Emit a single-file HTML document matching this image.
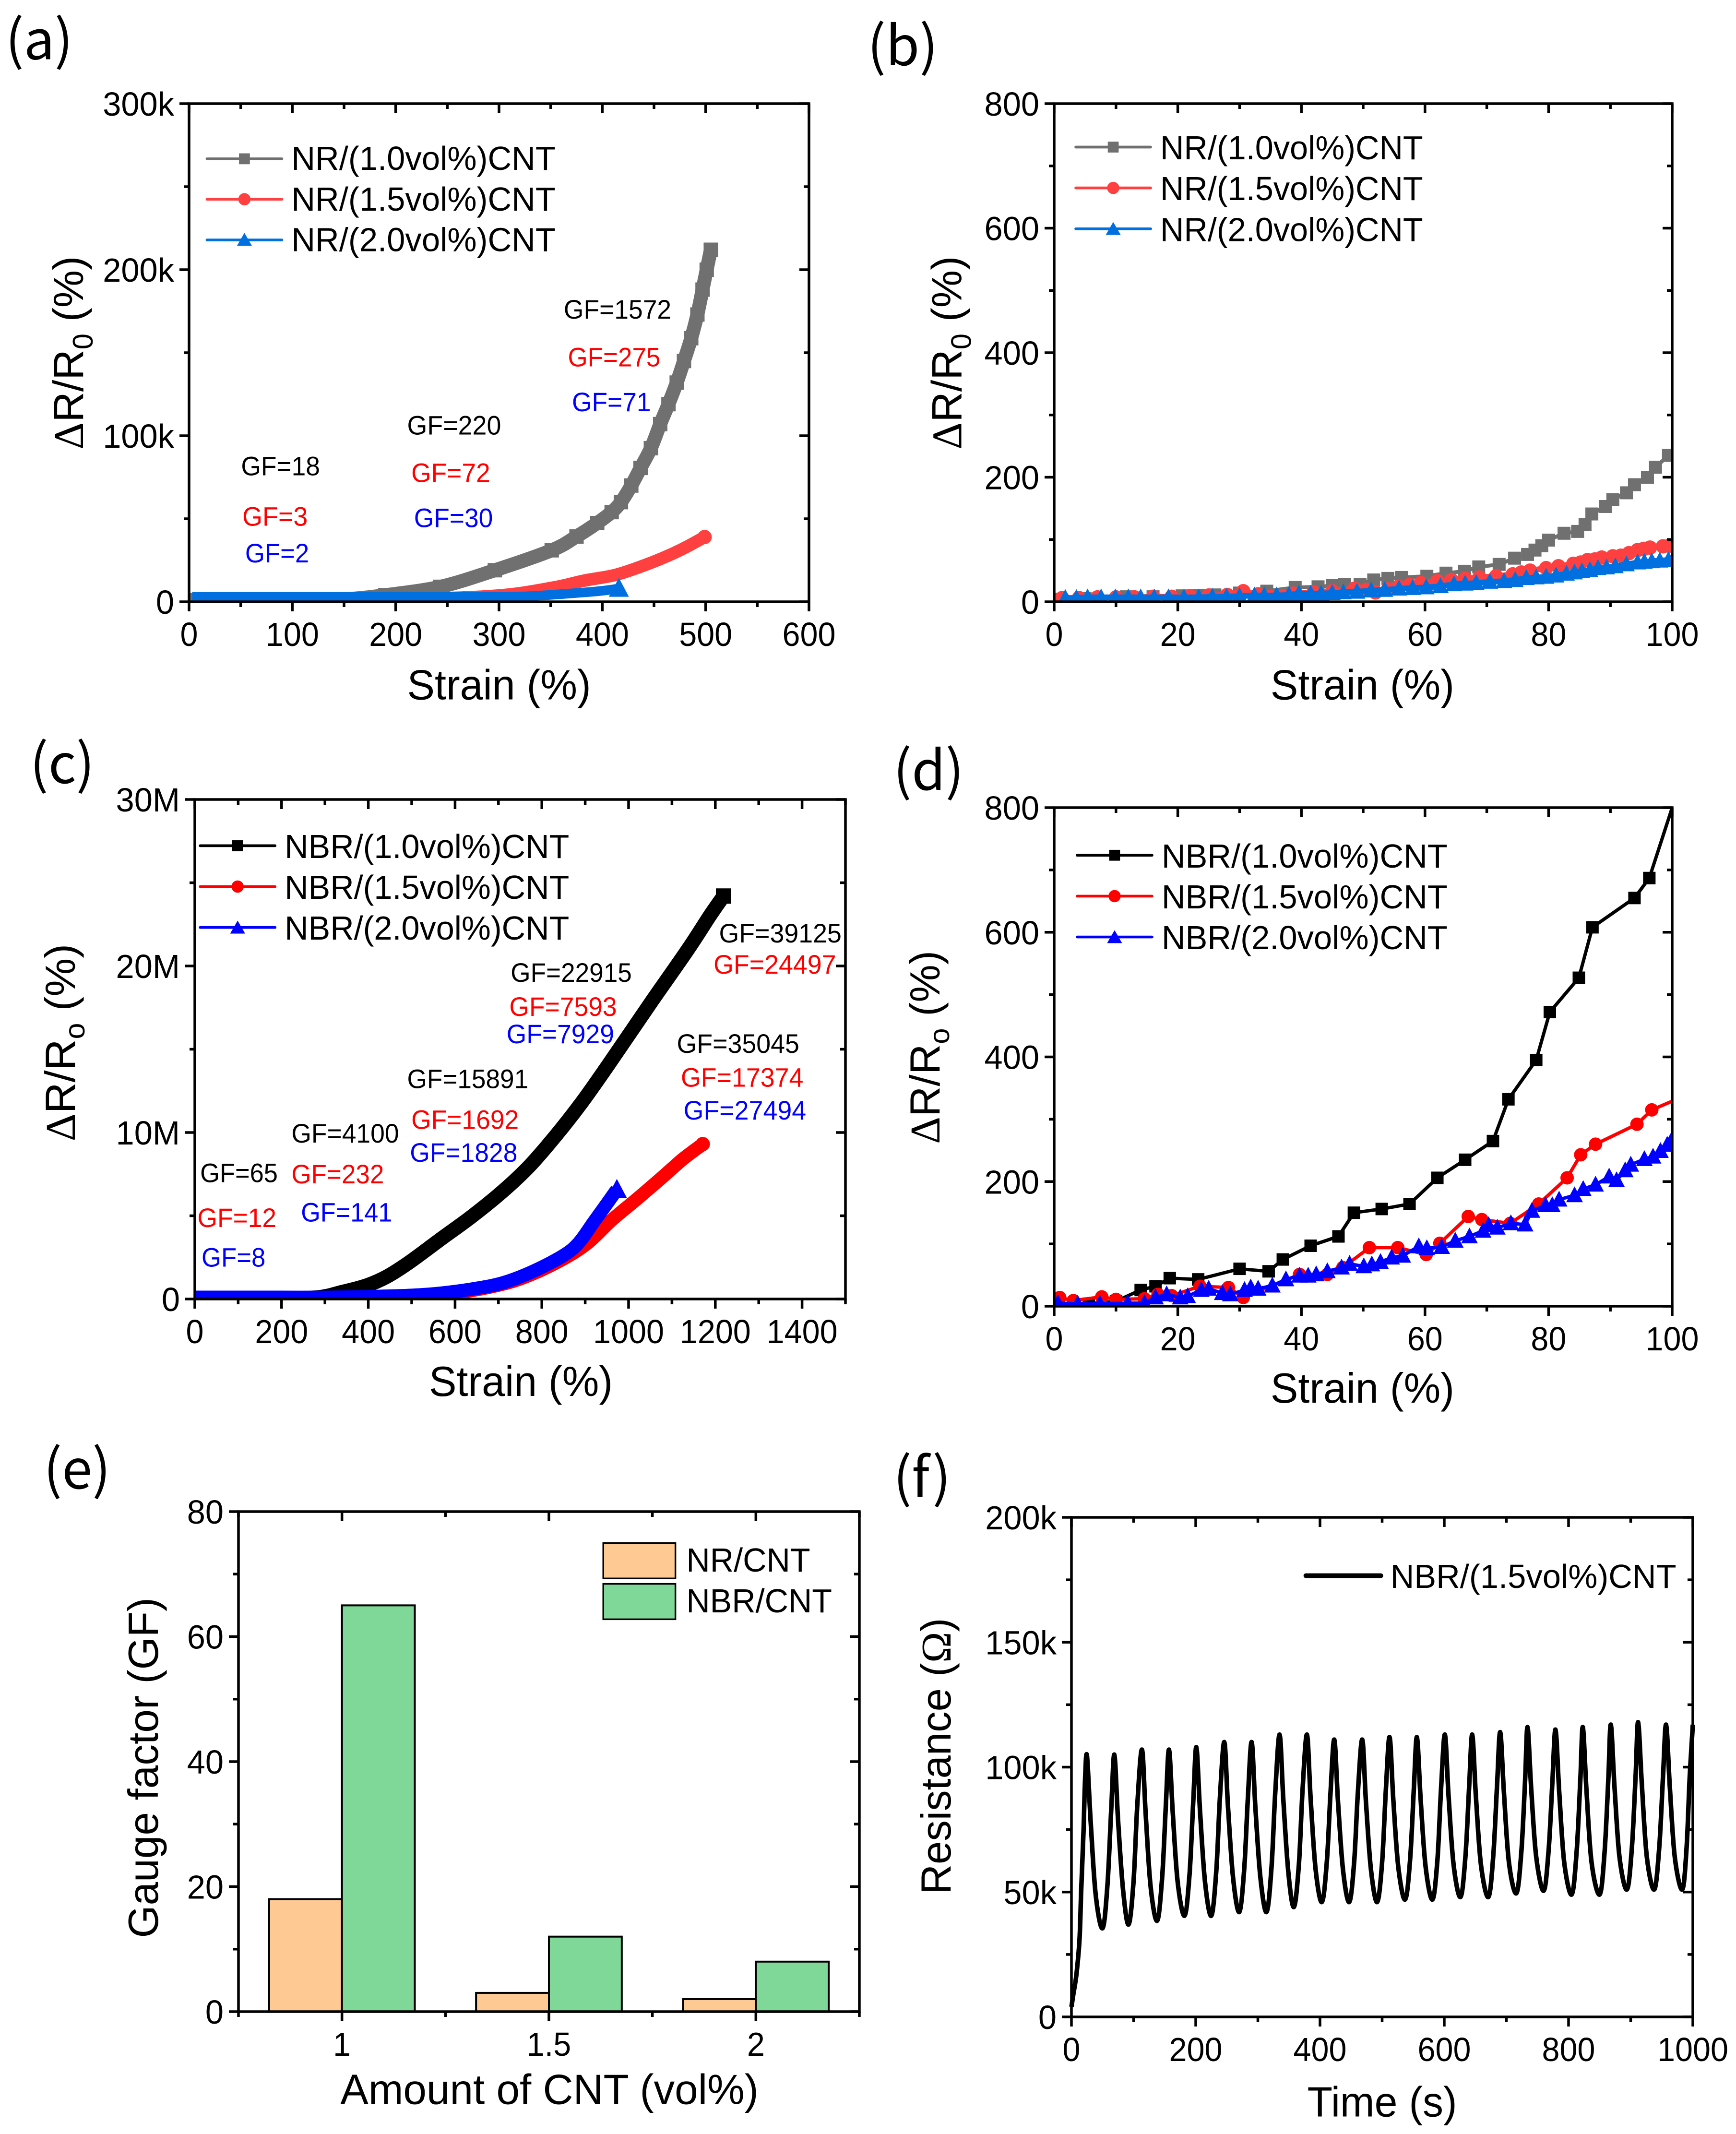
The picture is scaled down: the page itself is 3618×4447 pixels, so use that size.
<!DOCTYPE html>
<html lang="en">
<head>
<meta charset="utf-8">
<title>Strain sensing response of NR/CNT and NBR/CNT composites</title>
<style>
html,body{margin:0;padding:0;background:#fff;}
svg{display:block;}
text{font-family:"Liberation Sans",sans-serif;fill:#000;}
.gf{font-size:19.5px;}
.leg{font-size:24.6px;}
.ttl{font-size:31px;}
.let{font-size:40px;font-family:"Noto Sans CJK KR","Liberation Sans",sans-serif;}
.sub{font-size:21px;}
.r{fill:#f00;}
.b{fill:#00f;}
</style>
</head>
<body>
<svg id="fig" xmlns="http://www.w3.org/2000/svg" width="3618" height="4447" viewBox="0 0 3618 4447">
<rect x="0" y="0" width="3618" height="4447" fill="#fff"/>
<defs>
<clipPath id="clip-a"><rect x="394" y="216" width="1292" height="1038"/></clipPath>
<clipPath id="clip-b"><rect x="2197" y="216" width="1288" height="1038"/></clipPath>
<clipPath id="clip-c"><rect x="406" y="1666" width="1356" height="1041"/></clipPath>
<clipPath id="clip-d"><rect x="2197" y="1683" width="1288" height="1039"/></clipPath>
</defs>
<g id="panel-a"></g>
<g id="panel-b"></g>
<g id="panel-c"></g>
<g id="panel-d"></g>
<g id="panel-e"></g>
<g id="panel-f"></g>

<g transform="scale(2.838)">
  <text class="let" x="4" y="43.5">(a)</text>
  <text class="let" x="637" y="48">(b)</text>
  <text class="let" x="22" y="575">(c)</text>
  <text class="let" x="656" y="580">(d)</text>
  <text class="let" x="32" y="1093">(e)</text>
  <text class="let" x="656" y="1099">(f)</text>

  <text class="ttl" x="299" y="513.5" textLength="135" lengthAdjust="spacingAndGlyphs">Strain (%)</text>
  <text class="ttl" x="933" y="513.5" textLength="135" lengthAdjust="spacingAndGlyphs">Strain (%)</text>
  <text class="ttl" x="315" y="1025" textLength="135" lengthAdjust="spacingAndGlyphs">Strain (%)</text>
  <text class="ttl" x="933" y="1030" textLength="135" lengthAdjust="spacingAndGlyphs">Strain (%)</text>
  <text class="ttl" x="250" y="1545" textLength="307" lengthAdjust="spacingAndGlyphs">Amount of CNT (vol%)</text>
  <text class="ttl" x="960" y="1554" textLength="110" lengthAdjust="spacingAndGlyphs">Time (s)</text>

  <text class="ttl" transform="translate(61 330) rotate(-90)" textLength="142" lengthAdjust="spacingAndGlyphs"><tspan font-family="Liberation Serif">Δ</tspan>R/R<tspan class="sub" dy="7">0</tspan><tspan dy="-7"> (%)</tspan></text>
  <text class="ttl" transform="translate(706 330) rotate(-90)" textLength="142" lengthAdjust="spacingAndGlyphs"><tspan font-family="Liberation Serif">Δ</tspan>R/R<tspan class="sub" dy="7">0</tspan><tspan dy="-7"> (%)</tspan></text>
  <text class="ttl" transform="translate(55 838) rotate(-90)" textLength="145" lengthAdjust="spacingAndGlyphs"><tspan font-family="Liberation Serif">Δ</tspan>R/R<tspan class="sub" dy="7">o</tspan><tspan dy="-7"> (%)</tspan></text>
  <text class="ttl" transform="translate(690 840) rotate(-90)" textLength="142" lengthAdjust="spacingAndGlyphs"><tspan font-family="Liberation Serif">Δ</tspan>R/R<tspan class="sub" dy="7">o</tspan><tspan dy="-7"> (%)</tspan></text>
  <text class="ttl" transform="translate(116 1423) rotate(-90)" textLength="250" lengthAdjust="spacingAndGlyphs">Gauge factor (GF)</text>
  <text class="ttl" transform="translate(698 1391) rotate(-90)" textLength="203" lengthAdjust="spacingAndGlyphs">Resistance (<tspan font-family="Liberation Serif">Ω</tspan>)</text>

  <g stroke-linecap="round">
    <line x1="152" y1="116.6" x2="207" y2="116.6" stroke="#707070" stroke-width="2"/>
    <rect x="175.5" y="112.6" width="8" height="8" fill="#707070"/>
    <text class="leg" x="214" y="124.8" textLength="194" lengthAdjust="spacingAndGlyphs">NR/(1.0vol%)CNT</text>
    <line x1="152" y1="146.3" x2="207" y2="146.3" stroke="#ff4040" stroke-width="2"/>
    <circle cx="179.5" cy="146.3" r="4.5" fill="#ff4040"/>
    <text class="leg" x="214" y="154.7" textLength="194" lengthAdjust="spacingAndGlyphs">NR/(1.5vol%)CNT</text>
    <line x1="152" y1="176.2" x2="207" y2="176.2" stroke="#0070e0" stroke-width="2"/>
    <polygon points="179.5,171 185,180.5 174,180.5" fill="#0070e0"/>
    <text class="leg" x="214" y="184.5" textLength="194" lengthAdjust="spacingAndGlyphs">NR/(2.0vol%)CNT</text>
  </g>
  <g stroke-linecap="round">
    <line x1="790" y1="108" x2="845" y2="108" stroke="#707070" stroke-width="2"/>
    <rect x="813.5" y="104" width="8" height="8" fill="#707070"/>
    <text class="leg" x="852" y="117" textLength="193" lengthAdjust="spacingAndGlyphs">NR/(1.0vol%)CNT</text>
    <line x1="790" y1="138" x2="845" y2="138" stroke="#ff4040" stroke-width="2"/>
    <circle cx="817.5" cy="138" r="4.5" fill="#ff4040"/>
    <text class="leg" x="852" y="147" textLength="193" lengthAdjust="spacingAndGlyphs">NR/(1.5vol%)CNT</text>
    <line x1="790" y1="168" x2="845" y2="168" stroke="#0070e0" stroke-width="2"/>
    <polygon points="817.5,163 823,172.5 812,172.5" fill="#0070e0"/>
    <text class="leg" x="852" y="177" textLength="193" lengthAdjust="spacingAndGlyphs">NR/(2.0vol%)CNT</text>
  </g>
  <g stroke-linecap="round">
    <line x1="147" y1="621" x2="202" y2="621" stroke="#000" stroke-width="2"/>
    <rect x="170.5" y="617" width="8" height="8" fill="#000"/>
    <text class="leg" x="209" y="630" textLength="209" lengthAdjust="spacingAndGlyphs">NBR/(1.0vol%)CNT</text>
    <line x1="147" y1="651" x2="202" y2="651" stroke="#f00" stroke-width="2"/>
    <circle cx="174.5" cy="651" r="4.5" fill="#f00"/>
    <text class="leg" x="209" y="660" textLength="209" lengthAdjust="spacingAndGlyphs">NBR/(1.5vol%)CNT</text>
    <line x1="147" y1="681" x2="202" y2="681" stroke="#00f" stroke-width="2"/>
    <polygon points="174.5,676 180,685.5 169,685.5" fill="#00f"/>
    <text class="leg" x="209" y="690" textLength="209" lengthAdjust="spacingAndGlyphs">NBR/(2.0vol%)CNT</text>
  </g>
  <g stroke-linecap="round">
    <line x1="791" y1="628" x2="846" y2="628" stroke="#000" stroke-width="2"/>
    <rect x="814.5" y="624" width="8" height="8" fill="#000"/>
    <text class="leg" x="853" y="637" textLength="210" lengthAdjust="spacingAndGlyphs">NBR/(1.0vol%)CNT</text>
    <line x1="791" y1="658" x2="846" y2="658" stroke="#f00" stroke-width="2"/>
    <circle cx="818.5" cy="658" r="4.5" fill="#f00"/>
    <text class="leg" x="853" y="667" textLength="210" lengthAdjust="spacingAndGlyphs">NBR/(1.5vol%)CNT</text>
    <line x1="791" y1="688" x2="846" y2="688" stroke="#00f" stroke-width="2"/>
    <polygon points="818.5,683 824,692.5 813,692.5" fill="#00f"/>
    <text class="leg" x="853" y="697" textLength="210" lengthAdjust="spacingAndGlyphs">NBR/(2.0vol%)CNT</text>
  </g>
  <g>
    <rect x="443" y="1133" width="53" height="26" fill="#ffc993" stroke="#000" stroke-width="1.2"/>
    <text class="leg" x="504" y="1154" textLength="91" lengthAdjust="spacingAndGlyphs">NR/CNT</text>
    <rect x="443" y="1163" width="53" height="26" fill="#80d898" stroke="#000" stroke-width="1.2"/>
    <text class="leg" x="504" y="1184" textLength="107" lengthAdjust="spacingAndGlyphs">NBR/CNT</text>
  </g>
  <g>
    <line x1="959" y1="1157" x2="1014" y2="1157" stroke="#000" stroke-width="3.5" stroke-linecap="round"/>
    <text class="leg" x="1021" y="1166" textLength="210" lengthAdjust="spacingAndGlyphs">NBR/(1.5vol%)CNT</text>
  </g>

  <g>
    <text class="gf" x="414" y="234" textLength="79" lengthAdjust="spacingAndGlyphs">GF=1572</text>
    <text class="gf r" x="417" y="269" textLength="68" lengthAdjust="spacingAndGlyphs">GF=275</text>
    <text class="gf b" x="420" y="302" textLength="58" lengthAdjust="spacingAndGlyphs">GF=71</text>
    <text class="gf" x="299" y="319" textLength="69" lengthAdjust="spacingAndGlyphs">GF=220</text>
    <text class="gf r" x="302" y="354" textLength="58" lengthAdjust="spacingAndGlyphs">GF=72</text>
    <text class="gf b" x="304" y="387" textLength="58" lengthAdjust="spacingAndGlyphs">GF=30</text>
    <text class="gf" x="177" y="349" textLength="58" lengthAdjust="spacingAndGlyphs">GF=18</text>
    <text class="gf r" x="178" y="386" textLength="48" lengthAdjust="spacingAndGlyphs">GF=3</text>
    <text class="gf b" x="180" y="413" textLength="47" lengthAdjust="spacingAndGlyphs">GF=2</text>
  </g>
  <g>
    <text class="gf" x="147" y="868" textLength="57" lengthAdjust="spacingAndGlyphs">GF=65</text>
    <text class="gf r" x="145" y="901" textLength="58" lengthAdjust="spacingAndGlyphs">GF=12</text>
    <text class="gf b" x="148" y="930" textLength="47" lengthAdjust="spacingAndGlyphs">GF=8</text>
    <text class="gf" x="214" y="839" textLength="79" lengthAdjust="spacingAndGlyphs">GF=4100</text>
    <text class="gf r" x="214" y="869" textLength="68" lengthAdjust="spacingAndGlyphs">GF=232</text>
    <text class="gf b" x="221" y="897" textLength="67" lengthAdjust="spacingAndGlyphs">GF=141</text>
    <text class="gf" x="299" y="799" textLength="89" lengthAdjust="spacingAndGlyphs">GF=15891</text>
    <text class="gf r" x="302" y="829" textLength="79" lengthAdjust="spacingAndGlyphs">GF=1692</text>
    <text class="gf b" x="301" y="853" textLength="79" lengthAdjust="spacingAndGlyphs">GF=1828</text>
    <text class="gf" x="375" y="721" textLength="89" lengthAdjust="spacingAndGlyphs">GF=22915</text>
    <text class="gf r" x="374" y="746" textLength="79" lengthAdjust="spacingAndGlyphs">GF=7593</text>
    <text class="gf b" x="372" y="766" textLength="79" lengthAdjust="spacingAndGlyphs">GF=7929</text>
    <text class="gf" x="528" y="692" textLength="90" lengthAdjust="spacingAndGlyphs">GF=39125</text>
    <text class="gf r" x="524" y="715" textLength="90" lengthAdjust="spacingAndGlyphs">GF=24497</text>
    <text class="gf" x="497" y="773" textLength="90" lengthAdjust="spacingAndGlyphs">GF=35045</text>
    <text class="gf r" x="500" y="798" textLength="90" lengthAdjust="spacingAndGlyphs">GF=17374</text>
    <text class="gf b" x="502" y="822" textLength="90" lengthAdjust="spacingAndGlyphs">GF=27494</text>
  </g>
</g>
</svg>

<script>
// ---------- panel (a) ----------
const aXTicks = [0,100,200,300,400,500,600];
const aYTicks = [0,100,200,300];
const aYLabels = ['0','100k','200k','300k'];
const aGrayX = [3,50,100,150,190,243,296,351,375,395,409,418,428,437,447,456,464,472,479,486,492,497,501,505];
const aGrayY = [1,1,1,1.5,4,9,19,31,39.3,47.4,54,60,70,80.6,92.5,107,119,132,145,158.7,173,188,200,212];
const aRedX = [3,100,200,296,351,382,414,448,475,499];
const aRedY = [1,1,1.5,3.6,8.4,12.7,16.4,23.7,31,39];
const aBlueX = [3,50,100,150,200,250,300,330,360,390,405,416];
const aBlueY = [3,3,3,3,3,3,3,3.4,4.6,6,7,8];

// ---------- panel (b) ----------
const bXTicks = [0,20,40,60,80,100];
const bYTicks = [0,200,400,600,800];
const bGrayX = [1,5,11.7,16,20.7,23.4,26,30,34.4,39,42.7,45,47,49.5,51.7,54,56.2,60.3,63.4,66.4,68.7,72,74.5,76.6,77.8,78.9,80,82.5,84.7,85.9,87,89.2,90.4,92.6,93.9,96,97.3,99.4];
const bGrayY = [4,5,8,8,9.5,10,11,14,17,23,24,26,28,28,35,37.5,39,41,46,49,56,60,70,76,83,90,99,110,113,124,141,153,164,175,188,200,216,235];
const bRedX = [1.3,4,7,10,13,16,19,22,25,28,30.6,33,35,37,38.7,42,45,48.6,50.5,52,54,55.7,57.5,59.3,62,64.3,66.5,68.8,71.5,74.2,75.6,77,79.6,81.6,84,85.2,86.3,87.5,88.6,90.4,91.7,93,94.4,95.4,96.4,98.5,99.5];
const bRedY = [6,6,7,7,7,8,8,9,10,11,17,12,8,9,13,15,17,21,19,15,20,24,27,30,33,35,37,39,41,44,47,50,54,57,61,63,67,68,71,73,74,78,83,85,87,89,90];
const bBlueX = [1.8,3.6,5.4,7.6,9.9,12,14,16.2,18.5,21,23.4,25.6,27.9,30,32.4,34,36,38,39.6,41.5,43.2,45,46.8,49,51.3,53.5,55.8,58,60.2,62.5,64.7,66.5,68.3,70.5,72.8,74.6,76.4,78,79.6,81.2,82.9,84.2,85.4,86.7,88,89.4,90.8,92.6,94.4,95.5,96.7,98,99.4];
const bBlueY = [6,6,7,7,7,7,7,7,7,7,7,8,8,9,10,10,10,11,13,13,13,14,15,16,18,19,21,22,23,25,28,29,30,32,33,35,38,39,40,42,45,47,49,51,54,55,57,60,63,64,65,66,67];

// ---------- panel (c) ----------
const cXTicks = [0,200,400,600,800,1000,1200,1400];
const cYTicks = [0,10,20,30];
const cYLabels = ['0','10M','20M','30M'];
const cBlackX = [3,100,200,285,340,395,443,497,567,638,709,772,835,892,941,991,1054,1137,1187,1219];
const cBlackY = [0.05,0.05,0.05,0.1,0.42,0.8,1.35,2.25,3.6,4.95,6.45,8,9.9,11.8,13.6,15.5,17.9,21,23,24.2];
const cRedX = [500,603,709,778,849,906,962,1019,1075,1125,1171];
const cRedY = [0.1,0.37,0.89,1.5,2.4,3.37,4.76,6,7.25,8.4,9.3];
const cBlueX = [3,100,200,300,400,500,567,640,709,778,849,885,920,948,973];
const cBlueY = [0.1,0.1,0.1,0.1,0.14,0.22,0.35,0.6,0.96,1.64,2.6,3.37,4.64,5.65,6.57];

// ---------- panel (d) ----------
const dXTicks = [0,20,40,60,80,100];
const dYTicks = [0,200,400,600,800];
const dBlackX = [0,5.6,10,14,16.4,18.7,23.3,30,34.7,37,41.5,46,48.5,53,57.5,62,66.5,71,73.5,78,80.2,84.9,87.1,93.9,96.3,100];
const dBlackY = [1,4,8,26,32,45,43,60,56,75,97,112,150,156,164,206,235,265,332,395,472,527,608,655,687,800];
const dRedX = [0.9,3.1,7.7,10,14.6,16.8,19,23.6,28.2,30.6,39.7,44.2,46.7,51,55.6,60.2,62.4,67,69.2,73.8,78.4,83,85.2,87.6,94.3,96.7,100];
const dRedY = [14,9,15,11,12,19,17,32,30,14,51,51,62,94,94,83,101,144,139,133,164,206,243,260,292,315,329];
const dBlueX = [0.6,3.8,7.4,11.9,14.6,16.4,18.2,20.4,21.6,23.8,25,27.2,28.5,30.8,31.8,33,35.3,37.5,39.7,41.1,42.4,44.2,46.5,47.8,50.1,51.4,52.8,54.6,56.4,59,60.3,62.7,64.9,67.2,69.4,70.3,71.7,73.9,76.2,77.3,79.5,80.6,81.7,84.2,85.6,87.6,89.8,91,92.4,93.3,95.5,96.9,98.1,99.2,100];
const dBlueY = [5,4,4,5,5,14,19,14,16,26,28,21,19,26,30,28,33,43,49,49,51,56,62,68,64,67,71,78,81,96,93,95,105,112,121,130,126,133,131,153,162,162,171,178,188,195,208,202,218,227,236,240,249,259,268];

// ---------- panel (e) ----------
const eCategories = [1,1.5,2];
const eCategoryLabels = ['1','1.5','2'];
const eNR = [18,3,2];
const eNBR = [65,12,8];
const eYTicks = [0,20,40,60,80];

// ---------- panel (f) ----------
const fXTicks = [0,200,400,600,800,1000];
const fYTicks = [0,50,100,150,200];
const fYLabels = ['0','50k','100k','150k','200k'];
const fTime = [0,3,8,13,15.6,19.5,22,25,31,39,50,58,64,69,75,83,92,100,106,113.5,119.5,127.5,138,146,152,157,163,171,182,190,196,201,207,215,225,233,239,246,252,260,270,278,284,290,296,304,314,322,328,335,341,349,358,366,372,379,385,393,403,411,417,423,429,437,447,455,461,468,474,482,492,500,506,512,518,526,537,545,551,556,562,570,581,589,595,601,607,615,626,634,640,645,651,659,671,679,685,690,696,704,716,724,730,734,740,748,760,768,774,779,785,793,805,813,819,823,829,837,850,858,864,868,874,882,894,902,908,912,918,926,938,946,952,957,963,971,983,990,995,1000];
const fResistance = [4,9,17,31,50,75,95.5,104.5,78,49,35.5,53,83,105,79,51,37,54.5,85,107,81,52,38.5,56,85,107,82,54,40.5,57,86,108,82,54,40.5,58,88,110,84,56,42,59,88,110,84,56,42,60,90,113,87,58,44,61,91,113,87,59,46,62,90,111,86,59,46,62,90,111,86,59,46,62,91,112,87,60,47,63,91,112,87,60,47,63,92,113,88,61,48,64,92,113,88,61,48,65,93,114,90,62,49.5,66,94,116,91,64,50.5,67,94,115,90,62,49,66,95,116,90,62,49,66,95,117,92,64,51,68,97,118,93,64,51,68,96,117,92,64,51,68,96,117];

// ---------- helpers ----------
const SVGNS = 'http://www.w3.org/2000/svg';
function node(parent, tag, attrs, name) {
  const el = document.createElementNS(SVGNS, tag);
  for (const k in attrs) el.setAttribute(k, attrs[k]);
  
  
  parent.appendChild(el);
  return el;
}
function scale(d0, d1, r0, r1) {
  return function (v) { return r0 + (v - d0) / (d1 - d0) * (r1 - r0); };
}
function midpoints(t) {
  const m = [];
  for (let i = 0; i + 1 < t.length; i++) m.push((t[i] + t[i + 1]) / 2);
  return m;
}
function axes(g, f, sx, sy, xMajor, xLabels, xMinor, yMajor, yLabels, yMinor, prefix) {
  const MAJ = 20, MIN = 11, SW = 5.5;
  function tick(x1, y1, x2, y2, name) {
    node(g, 'line', {x1: x1, y1: y1, x2: x2, y2: y2, stroke: '#000', 'stroke-width': SW}, name);
  }
  xMajor.forEach(function (v, i) {
    const x = sx(v);
    tick(x, f.b, x, f.b + MAJ, prefix + '-x-tick');
    tick(x, f.t, x, f.t + MAJ, prefix + '-top-tick');
    const t = node(g, 'text', {transform: 'translate(' + x + ' ' + (f.b + 92) + ') scale(0.95 1)', 'text-anchor': 'middle', 'font-size': 70}, prefix + '-x-tick-label');
    t.textContent = xLabels[i];
  });
  xMinor.forEach(function (v) {
    const x = sx(v);
    tick(x, f.b, x, f.b + MIN, prefix + '-x-minor-tick');
    tick(x, f.t, x, f.t + MIN, prefix + '-top-minor-tick');
  });
  yMajor.forEach(function (v, i) {
    const y = sy(v);
    tick(f.l - MAJ, y, f.l, y, prefix + '-y-tick');
    tick(f.r - MAJ, y, f.r, y, prefix + '-right-tick');
    const t = node(g, 'text', {transform: 'translate(' + (f.l - 31) + ' ' + (y + 25) + ') scale(0.98 1)', 'text-anchor': 'end', 'font-size': 70}, prefix + '-y-tick-label');
    t.textContent = yLabels[i];
  });
  yMinor.forEach(function (v) {
    const y = sy(v);
    tick(f.l - MIN, y, f.l, y, prefix + '-y-minor-tick');
    tick(f.r - MIN, y, f.r, y, prefix + '-right-minor-tick');
  });
  node(g, 'rect', {x: f.l, y: f.t, width: f.r - f.l, height: f.b - f.t, fill: 'none', stroke: '#000', 'stroke-width': SW}, prefix + '-plot-frame');
}
function polyline(g, xs, ys, sx, sy, color, width, name) {
  const pts = xs.map(function (x, i) { return sx(x).toFixed(1) + ',' + sy(ys[i]).toFixed(1); }).join(' ');
  return node(g, 'polyline', {points: pts, fill: 'none', stroke: color, 'stroke-width': width, 'stroke-linejoin': 'round'}, name);
}
function smooth(g, xs, ys, sx, sy, color, width, name) {
  const p = xs.map(function (x, i) { return [sx(x), sy(ys[i])]; });
  let d = 'M' + p[0][0].toFixed(1) + ' ' + p[0][1].toFixed(1);
  for (let i = 0; i + 1 < p.length; i++) {
    const a = p[Math.max(i - 1, 0)], b = p[i], c = p[i + 1], e = p[Math.min(i + 2, p.length - 1)];
    d += 'C' + (b[0] + (c[0] - a[0]) / 6).toFixed(1) + ' ' + (b[1] + (c[1] - a[1]) / 6).toFixed(1) + ' ' +
         (c[0] - (e[0] - b[0]) / 6).toFixed(1) + ' ' + (c[1] - (e[1] - b[1]) / 6).toFixed(1) + ' ' +
         c[0].toFixed(1) + ' ' + c[1].toFixed(1);
  }
  return node(g, 'path', {d: d, fill: 'none', stroke: color, 'stroke-width': width, 'stroke-linejoin': 'round'}, name);
}
function markers(g, xs, ys, sx, sy, color, shape, size, name) {
  xs.forEach(function (xv, i) {
    const x = sx(xv), y = sy(ys[i]);
    if (shape === 'square') {
      node(g, 'rect', {x: x - size / 2, y: y - size / 2, width: size, height: size, fill: color}, name);
    } else if (shape === 'circle') {
      node(g, 'circle', {cx: x, cy: y, r: size / 2, fill: color}, name);
    } else {
      node(g, 'polygon', {points: x + ',' + (y - size * 0.62) + ' ' + (x + size * 0.58) + ',' + (y + size * 0.48) + ' ' + (x - size * 0.58) + ',' + (y + size * 0.48), fill: color}, name);
    }
  });
}
function str(a) { return a.map(String); }

// ---------- draw (a) ----------
(function () {
  const g = document.getElementById('panel-a');
  const f = {l: 394, r: 1686, t: 216, b: 1254};
  const sx = scale(0, 600, f.l, f.r), sy = scale(0, 300, f.b, f.t);
  const c = node(g, 'g', {'clip-path': 'url(#clip-a)'}, 'panel-a-series');
  smooth(c, aGrayX, aGrayY, sx, sy, '#707070', 29, 'series-nr-1-0-line');
  markers(c, aGrayX, aGrayY, sx, sy, '#707070', 'square', 30, 'series-nr-1-0-point');
  smooth(c, aRedX, aRedY, sx, sy, '#ff4040', 26, 'series-nr-1-5-line');
  markers(c, aRedX.slice(-1), aRedY.slice(-1), sx, sy, '#ff4040', 'circle', 30, 'series-nr-1-5-point');
  smooth(c, aBlueX, aBlueY, sx, sy, '#0070e0', 20, 'series-nr-2-0-line');
  markers(c, aBlueX.slice(-1), aBlueY.slice(-1), sx, sy, '#0070e0', 'triangle', 36, 'series-nr-2-0-point');
  axes(g, f, sx, sy, aXTicks, str(aXTicks), midpoints(aXTicks), aYTicks, aYLabels, midpoints(aYTicks), 'panel-a');
})();

// ---------- draw (b) ----------
(function () {
  const g = document.getElementById('panel-b');
  const f = {l: 2197, r: 3485, t: 216, b: 1254};
  const sx = scale(0, 100, f.l, f.r), sy = scale(0, 800, f.b, f.t);
  const c = node(g, 'g', {'clip-path': 'url(#clip-b)'}, 'panel-b-series');
  polyline(c, bGrayX, bGrayY, sx, sy, '#707070', 8, 'series-nr-1-0-line');
  markers(c, bGrayX, bGrayY, sx, sy, '#707070', 'square', 27, 'series-nr-1-0-point');
  polyline(c, bRedX, bRedY, sx, sy, '#ff4040', 12, 'series-nr-1-5-line');
  markers(c, bRedX, bRedY, sx, sy, '#ff4040', 'circle', 30, 'series-nr-1-5-point');
  polyline(c, bBlueX, bBlueY, sx, sy, '#0070e0', 12, 'series-nr-2-0-line');
  markers(c, bBlueX, bBlueY, sx, sy, '#0070e0', 'triangle', 30, 'series-nr-2-0-point');
  axes(g, f, sx, sy, bXTicks, str(bXTicks), midpoints(bXTicks), bYTicks, str(bYTicks), midpoints(bYTicks), 'panel-b');
})();

// ---------- draw (c) ----------
(function () {
  const g = document.getElementById('panel-c');
  const f = {l: 406, r: 1762, t: 1666, b: 2707};
  const sx = scale(0, 1500, f.l, f.r), sy = scale(0, 30, f.b, f.t);
  const c = node(g, 'g', {'clip-path': 'url(#clip-c)'}, 'panel-c-series');
  smooth(c, cBlackX, cBlackY, sx, sy, '#000', 30, 'series-nbr-1-0-line');
  markers(c, cBlackX.slice(-1), cBlackY.slice(-1), sx, sy, '#000', 'square', 32, 'series-nbr-1-0-point');
  smooth(c, cRedX, cRedY, sx, sy, '#f00', 28, 'series-nbr-1-5-line');
  markers(c, cRedX.slice(-1), cRedY.slice(-1), sx, sy, '#f00', 'circle', 30, 'series-nbr-1-5-point');
  smooth(c, cBlueX, cBlueY, sx, sy, '#00f', 28, 'series-nbr-2-0-line');
  markers(c, cBlueX.slice(-1), cBlueY.slice(-1), sx, sy, '#00f', 'triangle', 36, 'series-nbr-2-0-point');
  axes(g, f, sx, sy, cXTicks, str(cXTicks), [100,300,500,700,900,1100,1300,1500], cYTicks, cYLabels, midpoints(cYTicks), 'panel-c');
})();

// ---------- draw (d) ----------
(function () {
  const g = document.getElementById('panel-d');
  const f = {l: 2197, r: 3485, t: 1683, b: 2722};
  const sx = scale(0, 100, f.l, f.r), sy = scale(0, 800, f.b, f.t);
  const c = node(g, 'g', {'clip-path': 'url(#clip-d)'}, 'panel-d-series');
  polyline(c, dBlackX, dBlackY, sx, sy, '#000', 7, 'series-nbr-1-0-line');
  markers(c, dBlackX.slice(0, -1), dBlackY.slice(0, -1), sx, sy, '#000', 'square', 26, 'series-nbr-1-0-point');
  polyline(c, dRedX, dRedY, sx, sy, '#f00', 7, 'series-nbr-1-5-line');
  markers(c, dRedX.slice(0, -1), dRedY.slice(0, -1), sx, sy, '#f00', 'circle', 28, 'series-nbr-1-5-point');
  polyline(c, dBlueX, dBlueY, sx, sy, '#00f', 7, 'series-nbr-2-0-line');
  markers(c, dBlueX, dBlueY, sx, sy, '#00f', 'triangle', 30, 'series-nbr-2-0-point');
  axes(g, f, sx, sy, dXTicks, str(dXTicks), midpoints(dXTicks), dYTicks, str(dYTicks), midpoints(dYTicks), 'panel-d');
})();

// ---------- draw (e) ----------
(function () {
  const g = document.getElementById('panel-e');
  const f = {l: 497, r: 1791, t: 3150, b: 4192};
  const sx = scale(0.75, 2.25, f.l, f.r), sy = scale(0, 80, f.b, f.t);
  const w = 0.176;
  eCategories.forEach(function (c, i) {
    node(g, 'rect', {x: sx(c - w), y: sy(eNR[i]), width: sx(c) - sx(c - w), height: sy(0) - sy(eNR[i]), fill: '#ffc993', stroke: '#000', 'stroke-width': 4}, 'bar-nr-cnt');
    node(g, 'rect', {x: sx(c), y: sy(eNBR[i]), width: sx(c + w) - sx(c), height: sy(0) - sy(eNBR[i]), fill: '#80d898', stroke: '#000', 'stroke-width': 4}, 'bar-nbr-cnt');
  });
  axes(g, f, sx, sy, eCategories, eCategoryLabels, [0.75,1.25,1.75,2.25], eYTicks, str(eYTicks), midpoints(eYTicks), 'panel-e');
})();

// ---------- draw (f) ----------
(function () {
  const g = document.getElementById('panel-f');
  const f = {l: 2233, r: 3528, t: 3162, b: 4203};
  const sx = scale(0, 1000, f.l, f.r), sy = scale(0, 200, f.b, f.t);
  smooth(g, fTime, fResistance, sx, sy, '#000', 9.5, 'resistance-trace');
  axes(g, f, sx, sy, fXTicks, str(fXTicks), midpoints(fXTicks), fYTicks, fYLabels, midpoints(fYTicks), 'panel-f');
})();
</script>
</body>
</html>
